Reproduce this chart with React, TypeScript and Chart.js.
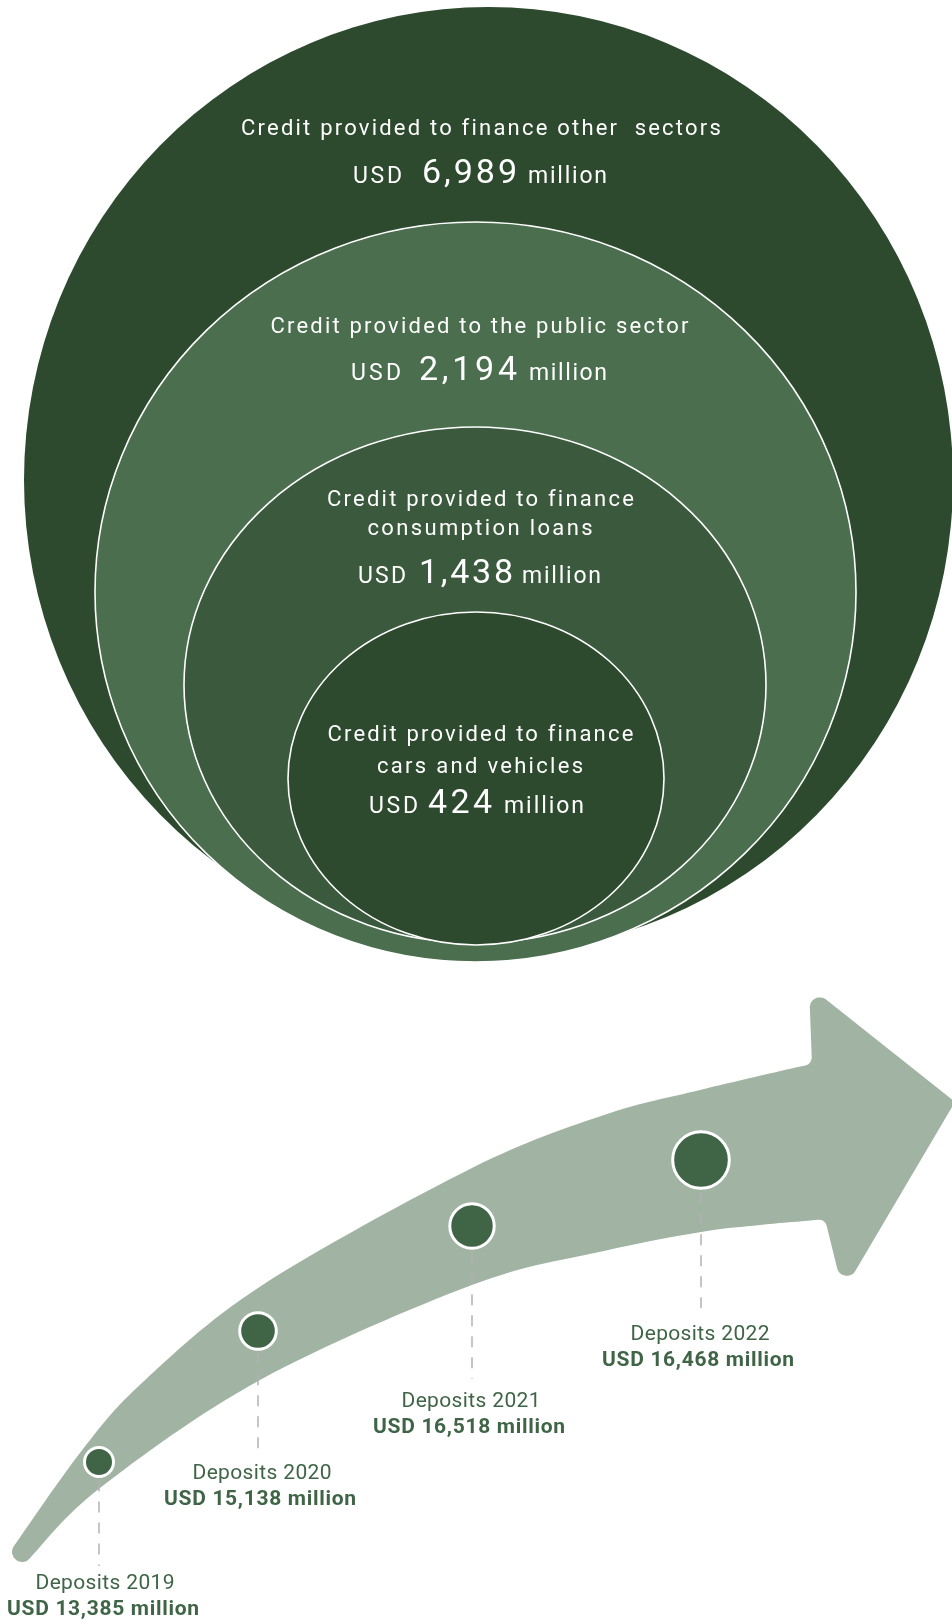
import React, { useEffect, useRef } from "react";
import { Chart, registerables } from "chart.js";

Chart.register(...registerables);

// ---------------- data ----------------
const creditLabels: string[][] = [
  ["Credit provided to finance other  sectors"],
  ["Credit provided to the public sector"],
  ["Credit provided to finance", "consumption loans"],
  ["Credit provided to finance", "cars and vehicles"],
];
const creditValues = [6989, 2194, 1438, 424];

const depositYears = ["2019", "2020", "2021", "2022"];
const depositValues = [13385, 15138, 16518, 16468];

// ---------------- layout (value space of the hidden linear scales) ----------------
const W = 952;
const H = 1621;

const ELLIPSES = [
  { cx: 488.5, cy: 480, rx: 464.5, ry: 473, fill: "#2D4A2E", stroke: 0 },
  { cx: 475.5, cy: 592, rx: 380.5, ry: 370, fill: "#4A6E4E", stroke: 1.6 },
  { cx: 475, cy: 685, rx: 291, ry: 258, fill: "#3B5A3D", stroke: 1.6 },
  { cx: 476, cy: 778.5, rx: 188, ry: 166.5, fill: "#2D4A2E", stroke: 1.6 },
];

const CREDIT_TEXT = [
  { cx: 480.5, titleY: [135], titleW: [479], valueY: 183, usd: [353, 49], num: [422, 95], mil: [528, 79] },
  { cx: 479.5, titleY: [333], titleW: [418], valueY: 380, usd: [351, 50], num: [419, 98], mil: [529, 78] },
  { cx: 480, titleY: [506, 535], titleW: [306, 225], valueY: 583, usd: [358, 48], num: [419, 94], mil: [522, 79] },
  { cx: 480, titleY: [741, 773], titleW: [305, 206], valueY: 813, usd: [369, 49], num: [428, 64], mil: [504, 80] },
];

const DEPOSIT_LAYOUT = [
  { x: 99, y: 1462, r: 14.5, labelX: 105, labelY: 1589, dashTo: 1566 },
  { x: 258, y: 1331, r: 18.3, labelX: 262, labelY: 1479, dashTo: 1455 },
  { x: 472, y: 1226, r: 22.2, labelX: 471, labelY: 1407, dashTo: 1379 },
  { x: 701, y: 1160, r: 28.3, labelX: 700, labelY: 1340, dashTo: 1309 },
];

const ARROW_UPPER = [
  [13.9, 1546.1], [83, 1449], [143, 1382], [261, 1286], [472, 1168], [604, 1115], [700, 1090], [798, 1067],
];
const ARROW_LOWER = [
  [805, 1221], [760, 1225], [701, 1232], [604, 1251], [472, 1285], [260, 1380], [100, 1488], [30.1, 1557.9],
];
const ARROW_HEAD = [
  [812, 1064, 8], [809, 986, 10], [955, 1102, 3], [843, 1292, 10], [825, 1219, 8],
];
const ARROW_TAIL = { cx: 22, cy: 1552, r: 10 };

const WHITE_FONT = "Roboto, 'Noto Sans', sans-serif";
const GREEN = "#3F6446";

function fmt(v: number) {
  return v.toLocaleString("en-US");
}

function drawFit(
  ctx: CanvasRenderingContext2D,
  text: string,
  x: number,
  y: number,
  font: string,
  color: string,
  targetW: number,
  align: "left" | "center"
) {
  const c: any = ctx;
  ctx.font = font;
  c.letterSpacing = "0px";
  const w0 = ctx.measureText(text).width;
  const n = Array.from(text).length;
  const sp = n > 1 ? (targetW - w0) / (n - 1) : 0;
  c.letterSpacing = sp.toFixed(3) + "px";
  ctx.fillStyle = color;
  ctx.textAlign = "left";
  ctx.textBaseline = "alphabetic";
  const left = align === "center" ? x - targetW / 2 : x;
  ctx.fillText(text, left, y);
  c.letterSpacing = "0px";
}

function smoothPath(ctx: CanvasRenderingContext2D, pts: number[][], moveFirst: boolean) {
  if (moveFirst) ctx.moveTo(pts[0][0], pts[0][1]);
  else ctx.lineTo(pts[0][0], pts[0][1]);
  for (let i = 0; i < pts.length - 1; i++) {
    const p0 = pts[i - 1] || pts[i];
    const p1 = pts[i];
    const p2 = pts[i + 1];
    const p3 = pts[i + 2] || p2;
    const c1x = p1[0] + (p2[0] - p0[0]) / 6;
    const c1y = p1[1] + (p2[1] - p0[1]) / 6;
    const c2x = p2[0] - (p3[0] - p1[0]) / 6;
    const c2y = p2[1] - (p3[1] - p1[1]) / 6;
    ctx.bezierCurveTo(c1x, c1y, c2x, c2y, p2[0], p2[1]);
  }
}

const shapesPlugin = {
  id: "shapes",
  beforeDatasetsDraw(chart: any) {
    const ctx: CanvasRenderingContext2D = chart.ctx;
    const xs = chart.scales.x;
    const ys = chart.scales.y;
    const px = (v: number) => xs.getPixelForValue(v);
    const py = (v: number) => ys.getPixelForValue(v);
    const P = (p: number[]) => [px(p[0]), py(p[1])];

    ctx.save();
    // nested ellipses
    ELLIPSES.forEach((e) => {
      const cx = px(e.cx);
      const cy = py(e.cy);
      const rx = Math.abs(px(e.cx + e.rx) - cx);
      const ry = Math.abs(py(e.cy + e.ry) - cy);
      ctx.beginPath();
      ctx.ellipse(cx, cy, rx, ry, 0, 0, Math.PI * 2);
      ctx.fillStyle = e.fill;
      ctx.fill();
      if (e.stroke) {
        ctx.lineWidth = e.stroke;
        ctx.strokeStyle = "#FFFFFF";
        ctx.stroke();
      }
    });

    // arrow
    ctx.beginPath();
    smoothPath(ctx, ARROW_UPPER.map(P), true);
    const head = ARROW_HEAD.map((h) => [px(h[0]), py(h[1]), h[2]]);
    const lower = ARROW_LOWER.map(P);
    const seq = [...head, [lower[0][0], lower[0][1], 0]];
    for (let i = 0; i < head.length; i++) {
      const a = seq[i];
      const b = seq[i + 1];
      ctx.arcTo(a[0], a[1], b[0], b[1], a[2]);
    }
    smoothPath(ctx, lower, false);
    const tcx = px(ARROW_TAIL.cx);
    const tcy = py(ARROW_TAIL.cy);
    const tr = Math.abs(px(ARROW_TAIL.cx + ARROW_TAIL.r) - tcx);
    const aStart = Math.atan2(lower[lower.length - 1][1] - tcy, lower[lower.length - 1][0] - tcx);
    const up0 = P(ARROW_UPPER[0]);
    const aEnd = Math.atan2(up0[1] - tcy, up0[0] - tcx) + Math.PI * 2;
    ctx.arc(tcx, tcy, tr, aStart, aEnd, false);
    ctx.closePath();
    ctx.fillStyle = "#A1B3A3";
    ctx.fill();

    // dashed guide lines
    ctx.setLineDash([11, 10]);
    ctx.lineWidth = 1.5;
    ctx.strokeStyle = "#B3B3B3";
    DEPOSIT_LAYOUT.forEach((d) => {
      ctx.beginPath();
      ctx.moveTo(px(d.x), py(d.y + d.r + 4));
      ctx.lineTo(px(d.x), py(d.dashTo));
      ctx.stroke();
    });
    ctx.setLineDash([]);
    ctx.restore();
  },
  afterDatasetsDraw(chart: any) {
    const ctx: CanvasRenderingContext2D = chart.ctx;
    const xs = chart.scales.x;
    const ys = chart.scales.y;
    const px = (v: number) => xs.getPixelForValue(v);
    const py = (v: number) => ys.getPixelForValue(v);
    ctx.save();
    // credit texts
    creditLabels.forEach((lines, i) => {
      const t = CREDIT_TEXT[i];
      lines.forEach((ln, j) => {
        drawFit(ctx, ln, px(t.cx), py(t.titleY[j]), `400 22px ${WHITE_FONT}`, "#FFFFFF", t.titleW[j], "center");
      });
      drawFit(ctx, "USD", px(t.usd[0]), py(t.valueY), `400 23px ${WHITE_FONT}`, "#FFFFFF", t.usd[1], "left");
      drawFit(ctx, fmt(creditValues[i]), px(t.num[0]), py(t.valueY), `400 34px ${WHITE_FONT}`, "#FFFFFF", t.num[1], "left");
      drawFit(ctx, "million", px(t.mil[0]), py(t.valueY), `400 23px ${WHITE_FONT}`, "#FFFFFF", t.mil[1], "left");
    });
    // deposit labels
    depositYears.forEach((yr, i) => {
      const d = DEPOSIT_LAYOUT[i];
      drawFit(ctx, `Deposits ${yr}`, px(d.labelX), py(d.labelY), `400 21px ${WHITE_FONT}`, GREEN, 139, "center");
      drawFit(ctx, `USD ${fmt(depositValues[i])} million`, px(d.labelX - 2), py(d.labelY + 25.5), `700 21px ${WHITE_FONT}`, GREEN, 192, "center");
    });
    ctx.restore();
  },
};

export default function App() {
  const ref = useRef<HTMLCanvasElement | null>(null);

  useEffect(() => {
    document.body.style.margin = "0";
    document.body.style.overflow = "hidden";
    const canvas = ref.current;
    if (!canvas) return;
    const chart = new Chart(canvas, {
      type: "bubble",
      data: {
        datasets: [
          {
            label: "Deposits",
            data: depositValues.map((v, i) => ({
              x: DEPOSIT_LAYOUT[i].x,
              y: DEPOSIT_LAYOUT[i].y,
              r: DEPOSIT_LAYOUT[i].r,
              v,
            })) as any,
            backgroundColor: "#3F6446",
            borderColor: "#FFFFFF",
            borderWidth: 3,
            hoverBorderWidth: 3,
          },
        ],
      },
      options: {
        animation: false,
        responsive: false,
        maintainAspectRatio: false,
        devicePixelRatio: 1,
        events: [],
        layout: { padding: 0, autoPadding: false },
        scales: {
          x: { type: "linear", min: 0, max: W, display: false },
          y: { type: "linear", min: 0, max: H, reverse: true, display: false },
        },
        plugins: {
          legend: { display: false },
          tooltip: { enabled: false },
        },
      },
      plugins: [shapesPlugin],
    });
    return () => chart.destroy();
  }, []);

  return (
    <div style={{ position: "absolute", left: 0, top: 0, width: W, height: H, background: "#FFFFFF" }}>
      <canvas ref={ref} width={W} height={H} style={{ width: W, height: H, display: "block" }} />
    </div>
  );
}
